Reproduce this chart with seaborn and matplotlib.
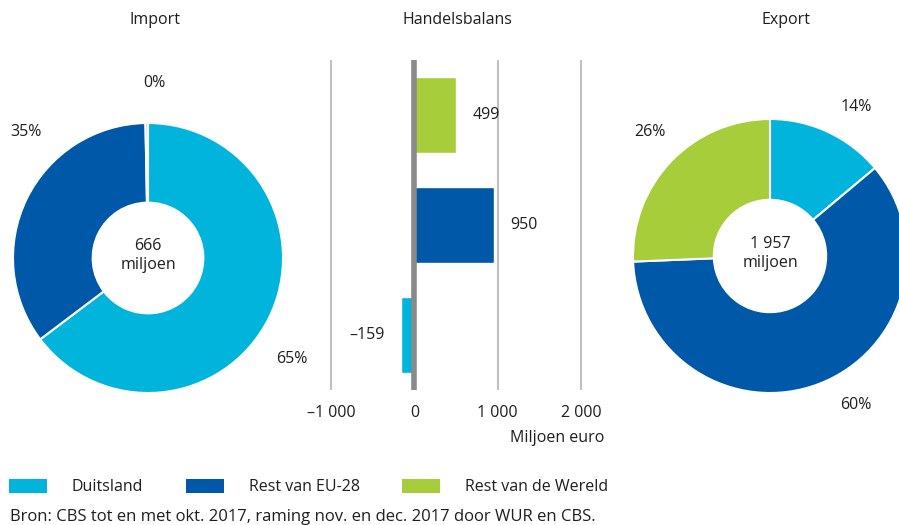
import numpy as np
import pandas as pd
import seaborn as sns
import matplotlib.pyplot as plt
from matplotlib.patches import Patch

# data
regios = ["Duitsland", "Rest van EU-28", "Rest van de Wereld"]
kleuren = ["#00b4dc", "#0058a8", "#a8cd3a"]
import_waarde = [431, 233, 2]
export_waarde = [272, 1183, 502]
import_totaal = "666"
export_totaal = "1 957"
balans = [-159, 950, 499]
balans_labels = ["–159", "950", "499"]
balans_ticks = [-1000, 0, 1000, 2000]
balans_ticklabels = ["–1 000", "0", "1 000", "2 000"]
bron = "Bron: CBS tot en met okt. 2017, raming nov. en dec. 2017 door WUR en CBS."

sns.set_style("white")
plt.rcParams["font.family"] = ["Open Sans", "DejaVu Sans"]
TXT = "#1e1e1e"
FS = 11.5

W, H = 899, 525
fig = plt.figure(figsize=(W / 100, H / 100), dpi=100)


def px_axes(left, top, width, height):
    return fig.add_axes([left / W, 1 - (top + height) / H, width / W, height / H])


def donut(ax, values, totaal, label_angles, label_dist):
    wedges, _, pct = ax.pie(
        values, colors=kleuren, startangle=90, counterclock=False, radius=1,
        wedgeprops=dict(width=0.59, edgecolor="white", linewidth=1.5),
        autopct=lambda p: f"{p:.0f}%", pctdistance=1.28,
        textprops=dict(fontsize=FS, color=TXT),
    )
    for t, a in zip(pct, label_angles):
        t.set_position((label_dist * np.cos(np.radians(a)), label_dist * np.sin(np.radians(a))))
    ax.set_xlim(-1.02, 1.02)
    ax.set_ylim(-1.02, 1.02)
    ax.text(0, 0.02, f"{totaal}\nmiljoen", ha="center", va="center",
            fontsize=FS, color=TXT, linespacing=1.25)


# Import donut
R = 135 * 1.02
ax_imp = px_axes(148 - R, 258 - R, 2 * R, 2 * R)
donut(ax_imp, import_waarde, import_totaal, [-35, 134, 88], 1.30)

# Export donut
R2 = 137 * 1.02
ax_exp = px_axes(770 - R2, 256 - R2, 2 * R2, 2 * R2)
donut(ax_exp, export_waarde, export_totaal, [60, -60, 134], 1.26)

# Handelsbalans bars
ax_bal = px_axes(331 - 50 / 12, 60, 3100 / 12, 330)
df = pd.DataFrame({"regio": regios, "saldo": balans})
volgorde = regios[::-1]
sns.barplot(data=df, x="saldo", y="regio", hue="regio", order=volgorde,
            hue_order=regios, palette=dict(zip(regios, kleuren)),
            orient="h", width=0.69, legend=False, saturation=1, ax=ax_bal)
for c, lbl in zip(ax_bal.containers, balans_labels):
    ax_bal.bar_label(c, labels=[lbl] * len(c), padding=12, fontsize=FS, color=TXT)
ax_bal.set_xlim(-1050, 2050)
ax_bal.set_ylim(2.5, -0.5)
ax_bal.set_xticks(balans_ticks)
ax_bal.set_xticklabels(balans_ticklabels)
ax_bal.grid(axis="x", color="#c0c0c0", linewidth=1.5)
ax_bal.grid(axis="y", visible=False)
ax_bal.set_axisbelow(True)
ax_bal.axvline(0, color="#8a8a8a", linewidth=4, zorder=3)
ax_bal.set_yticks([])
ax_bal.set_xlabel("")
ax_bal.set_ylabel("")
ax_bal.tick_params(axis="x", length=0, pad=11, labelsize=FS, labelcolor=TXT)
for s in ax_bal.spines.values():
    s.set_visible(False)
ax_bal.patch.set_alpha(0)

# titles
fig.text(155 / W, 1 - 20 / H, "Import", ha="center", va="center", fontsize=FS, color=TXT)
fig.text(457 / W, 1 - 20 / H, "Handelsbalans", ha="center", va="center", fontsize=FS, color=TXT)
fig.text(786 / W, 1 - 20 / H, "Export", ha="center", va="center", fontsize=FS, color=TXT)
fig.text(604 / W, 1 - 438 / H, "Miljoen euro", ha="right", va="center", fontsize=FS, color=TXT)

# legend
handles = [Patch(facecolor=k, edgecolor="none") for k in kleuren]
fig.legend(handles, regios, loc="center left", bbox_to_anchor=(9 / W, 1 - 487 / H),
           ncol=3, frameon=False, handlelength=2.38, handleheight=0.95,
           handletextpad=1.56, columnspacing=2.65, borderaxespad=0, borderpad=0,
           fontsize=FS, labelcolor=TXT)

fig.text(10 / W, 1 - 517 / H, bron, ha="left", va="center", fontsize=12, color=TXT)

fig.savefig("out.png", dpi=100)
